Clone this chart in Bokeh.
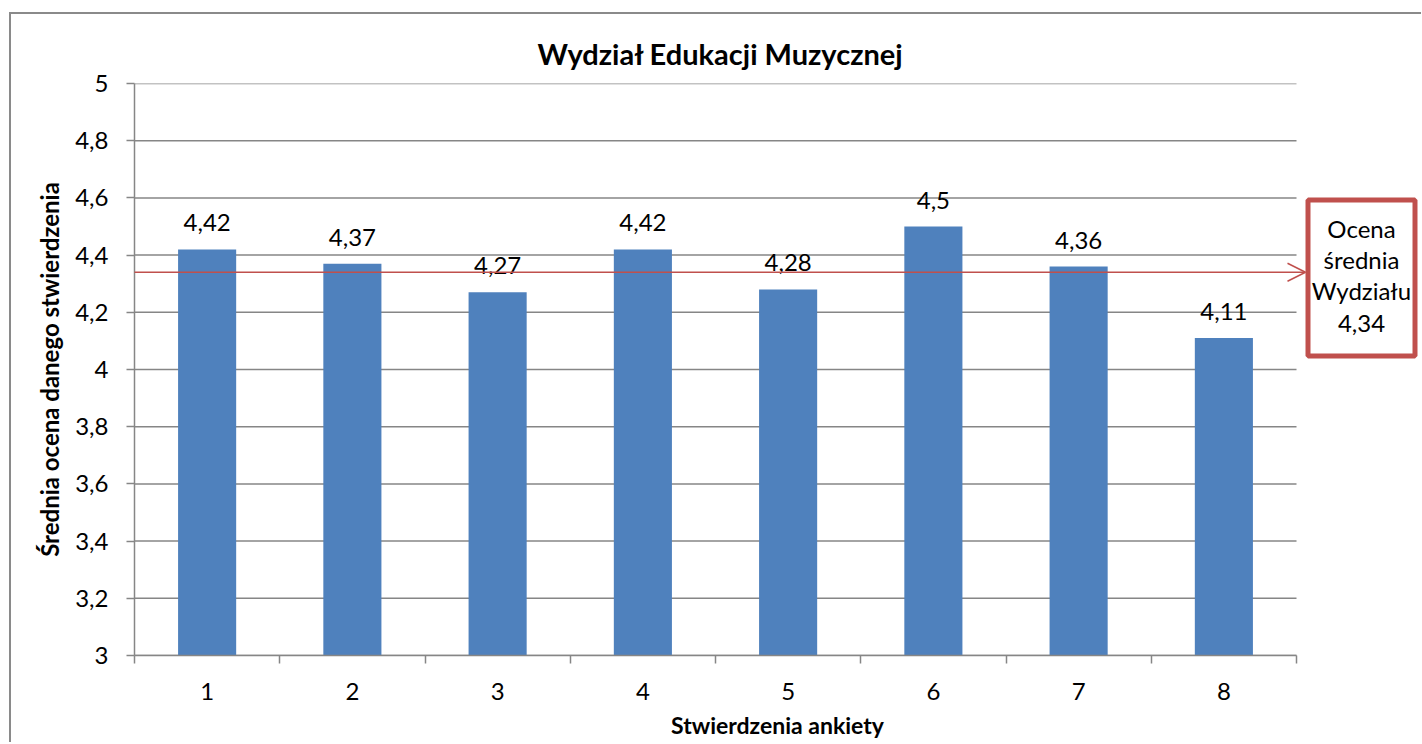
from bokeh.plotting import figure
from bokeh.models import (Range1d, FixedTicker, Arrow, OpenHead, Label,
                          BoxAnnotation, ColumnDataSource)
from bokeh.core.properties import value
from bokeh.embed import file_html
from bokeh.resources import INLINE

# ---- data ----
categories = [1, 2, 3, 4, 5, 6, 7, 8]
scores = [4.42, 4.37, 4.27, 4.42, 4.28, 4.5, 4.36, 4.11]
faculty_avg = 4.34
y_ticks = [3, 3.2, 3.4, 3.6, 3.8, 4, 4.2, 4.4, 4.6, 4.8, 5]
y_tick_labels = ["3", "3,2", "3,4", "3,6", "3,8", "4", "4,2", "4,4", "4,6", "4,8", "5"]
title_text = "Wydział Edukacji Muzycznej"
x_label = "Stwierdzenia ankiety"
y_label = "Średnia ocena danego stwierdzenia"
avg_box_text = "Ocena\nśrednia\nWydziału\n4,34"

# ---- style / layout ----
FONT = "Lato"
GRID = "#868686"
BAR = "#4F81BD"
RED = "#C0504D"
PLOT_W = 1162            # width of the category area in px
FRAME_W = 1286           # frame also holds the side box
FRAME_H = 572
px_per_cat = PLOT_W / len(categories)
x_lo = categories[0] - 0.5
x_hi = categories[-1] + 0.5


def pl(v):
    return f"{v:g}".replace(".", ",")


src = ColumnDataSource(dict(x=categories, top=scores, lab=[pl(v) for v in scores]))

p = figure(
    frame_width=FRAME_W, frame_height=FRAME_H,
    min_border_left=123, min_border_right=1, min_border_top=69, min_border_bottom=87,
    x_range=Range1d(x_lo, x_lo + FRAME_W / px_per_cat),
    y_range=Range1d(y_ticks[0], y_ticks[-1]),
    output_backend="svg", toolbar_location=None, tools="",
    margin=(12, 0, 0, 9),
    styles={"border-left": "2px solid #8a8a8a", "border-top": "2px solid #8a8a8a",
            "border-right": "none", "border-bottom": "none"},
)
p.outline_line_color = None
p.background_fill_color = "white"
p.border_fill_color = "white"

p.title.text = title_text
p.title.align = "left"
p.title.offset = 403
p.title.text_font = FONT
p.title.text_font_size = "29px"
p.title.text_font_style = "bold"
p.title.text_color = "black"
p.title.standoff = 26

# grid lines (limited to the category area)
p.segment(x0=x_lo, x1=x_hi, y0=y_ticks, y1=y_ticks, line_color=GRID, line_width=1.5)

# bars
p.vbar(x="x", top="top", bottom=y_ticks[0], width=0.4, source=src,
       fill_color=BAR, line_color=None)
p.text(x="x", y="top", text="lab", source=src, y_offset=-18,
       text_align="center", text_baseline="bottom",
       text_font=value(FONT), text_font_size="24px", text_color="black")

# y axis
ya = p.yaxis[0]
ya.ticker = FixedTicker(ticks=y_ticks)
ya.major_label_overrides = {t: l for t, l in zip(y_ticks, y_tick_labels)}
ya.axis_line_color = GRID
ya.axis_line_width = 1.5
ya.major_tick_line_color = GRID
ya.major_tick_line_width = 1.5
ya.major_tick_out = 8
ya.major_tick_in = 0
ya.minor_tick_line_color = None
ya.major_label_standoff = 18
ya.major_label_text_font = FONT
ya.major_label_text_font_size = "24px"
ya.major_label_text_color = "black"
ya.axis_label = y_label
ya.axis_label_text_font = FONT
ya.axis_label_text_font_size = "24px"
ya.axis_label_text_font_style = "bold"
ya.axis_label_text_color = "black"
ya.axis_label_standoff = 8

# x axis
xa = p.xaxis[0]
xa.bounds = (x_lo, x_hi)
xa.ticker = FixedTicker(ticks=categories,
                        minor_ticks=[c - 0.5 for c in categories] + [x_hi])
xa.axis_line_color = GRID
xa.axis_line_width = 1.5
xa.major_tick_line_color = None
xa.major_tick_out = 0
xa.major_tick_in = 0
xa.minor_tick_line_color = GRID
xa.minor_tick_line_width = 1.5
xa.minor_tick_out = 8
xa.minor_tick_in = 0
xa.major_label_standoff = 19
xa.major_label_text_font = FONT
xa.major_label_text_font_size = "24px"
xa.major_label_text_color = "black"
xa.axis_label = x_label
xa.axis_label_text_font = FONT
xa.axis_label_text_font_size = "23px"
xa.axis_label_text_font_style = "bold"
xa.axis_label_text_color = "black"
xa.axis_label_standoff = 8

p.xgrid.visible = False
p.ygrid.visible = False

# average arrow
p.add_layout(Arrow(
    end=OpenHead(size=18, line_color=RED, line_width=1.5),
    x_start=x_lo - 6 / px_per_cat, y_start=faculty_avg,
    x_end=x_hi + 9 / px_per_cat, y_end=faculty_avg,
    line_color=RED, line_width=1.5,
))

# average box
p.add_layout(BoxAnnotation(
    left=x_hi + 11.5 / px_per_cat, right=x_hi + 118.5 / px_per_cat,
    bottom=faculty_avg - 0.293, top=faculty_avg + 0.253,
    fill_color="white", fill_alpha=1.0,
    line_color=RED, line_width=5, line_alpha=1.0,
))
p.add_layout(Label(
    x=x_hi + 65 / px_per_cat, y=faculty_avg - 0.011,
    text=avg_box_text, text_align="center", text_baseline="middle",
    text_font=FONT, text_font_size="24px", text_color="black",
    text_line_height=1.075,
))

open("out.html", "w").write(file_html(p, INLINE))
